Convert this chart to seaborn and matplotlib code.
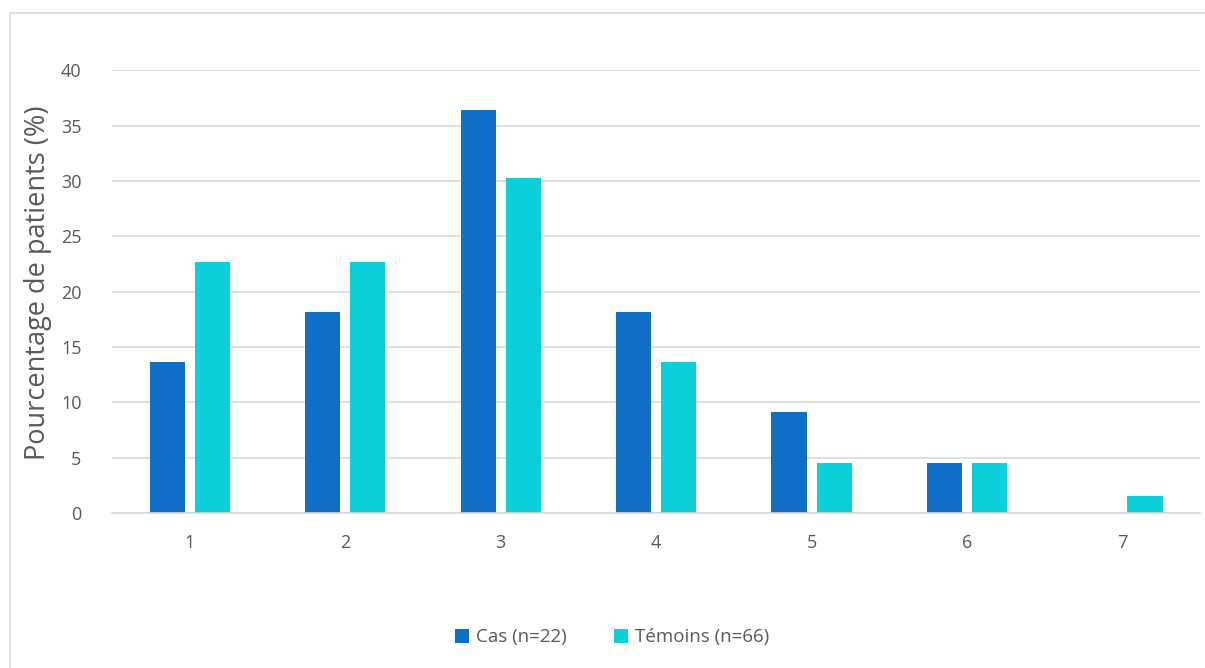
import pandas as pd
import matplotlib.pyplot as plt
import seaborn as sns
from matplotlib.patches import Rectangle

# données
categories = ["1", "2", "3", "4", "5", "6", "7"]
cas = [13.6, 18.2, 36.4, 18.2, 9.1, 4.5, 0.0]
temoins = [22.7, 22.7, 30.3, 13.6, 4.5, 4.5, 1.5]
series = ["Cas (n=22)", "Témoins (n=66)"]

df = pd.DataFrame({
    "cat": categories * 2,
    "val": cas + temoins,
    "groupe": [series[0]] * len(categories) + [series[1]] * len(categories),
})

sns.set_style("white")
plt.rcParams['font.family'] = ['Open Sans', 'DejaVu Sans']
txt = "#595959"

fig = plt.figure(figsize=(12.05, 6.68), dpi=100)
ax = fig.add_axes([0.093, 0.232, 0.903, 0.663])

sns.barplot(data=df, x="cat", y="val", hue="groupe", order=categories,
            palette=["#0F6FC6", "#0BD0D9"], saturation=1, width=0.58, gap=0.22,
            linewidth=0, ax=ax, legend=True)

ax.set_ylim(0, 40)
ax.set_xlim(-0.5, 6.5)
ax.set_yticks(range(0, 41, 5))
ax.yaxis.grid(True, color="#D9D9D9", lw=1.2)
ax.set_axisbelow(True)
for s in ["top", "right", "left"]:
    ax.spines[s].set_visible(False)
ax.spines["bottom"].set_color("#D9D9D9")
ax.spines["bottom"].set_linewidth(1.2)
ax.tick_params(axis="both", length=0, labelsize=13, colors=txt)
ax.tick_params(axis="x", pad=15)
ax.tick_params(axis="y", pad=22)
ax.set_xlabel("")
ax.set_ylabel("Pourcentage de patients (%)", fontsize=19.5, color=txt)
ax.yaxis.set_label_coords(-0.055, 0.52)

ax.legend(loc="center", bbox_to_anchor=(0.508, 0.046), bbox_transform=fig.transFigure,
          ncol=2, frameon=False, fontsize=13.5, labelcolor=txt,
          handlelength=0.75, handleheight=0.75, handletextpad=0.4, columnspacing=2.5)

fig.patches.append(Rectangle((10 / 1205, -0.01), 1.2, 1 - 13 / 668 + 0.01,
                             transform=fig.transFigure, fill=False,
                             edgecolor="#D9D9D9", lw=1.2))

fig.savefig("out.png", dpi=100)
